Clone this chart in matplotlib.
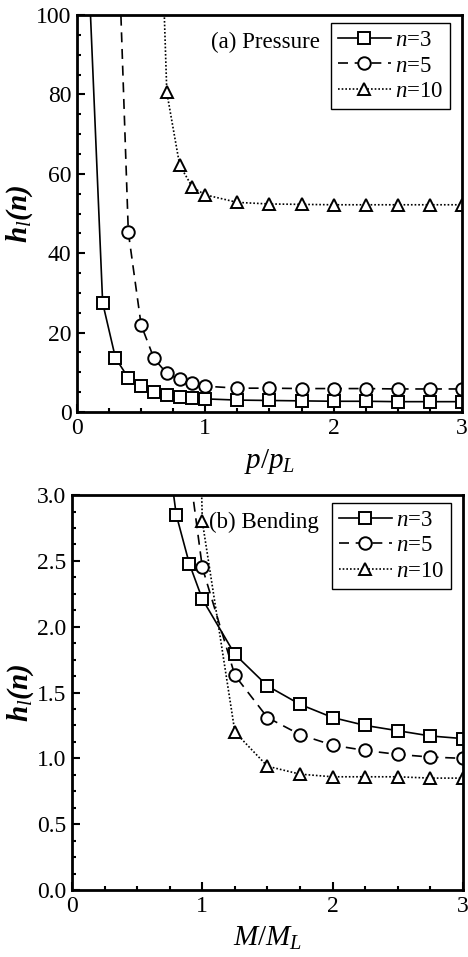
import matplotlib
matplotlib.use("Agg")
import matplotlib.pyplot as plt
from matplotlib.ticker import MultipleLocator

plt.rcParams['font.family'] = ['Liberation Serif', 'DejaVu Serif']
plt.rcParams['mathtext.fontset'] = 'custom'
plt.rcParams['mathtext.rm'] = 'Liberation Serif'
plt.rcParams['mathtext.it'] = 'Liberation Serif:italic'
plt.rcParams['mathtext.bf'] = 'Liberation Serif:bold:italic'

# (a) pressure, p/pL ; first point of each series lies above the frame
p_n3 = [0.1, 0.2, 0.3, 0.4, 0.5, 0.6, 0.7, 0.8, 0.9, 1.0, 1.25, 1.5, 1.75, 2.0, 2.25, 2.5, 2.75, 3.0]
h_p_n3 = [104, 27.5, 13.6, 8.6, 6.5, 5.1, 4.2, 3.9, 3.6, 3.3, 3.0, 2.9, 2.8, 2.7, 2.7, 2.6, 2.6, 2.6]
p_n5 = [0.3, 0.4, 0.5, 0.6, 0.7, 0.8, 0.9, 1.0, 1.25, 1.5, 1.75, 2.0, 2.25, 2.5, 2.75, 3.0]
h_p_n5 = [140, 45.3, 21.9, 13.5, 9.7, 8.2, 7.2, 6.5, 6.0, 6.0, 5.9, 5.9, 5.9, 5.8, 5.8, 5.8]
p_n10 = [0.6, 0.7, 0.8, 0.9, 1.0, 1.25, 1.5, 1.75, 2.0, 2.25, 2.5, 2.75, 3.0]
h_p_n10 = [180, 80.5, 62.2, 56.6, 54.7, 52.8, 52.4, 52.3, 52.2, 52.2, 52.2, 52.2, 52.2]

# (b) bending, M/ML
m_n3 = [0.7, 0.8, 0.9, 1.0, 1.25, 1.5, 1.75, 2.0, 2.25, 2.5, 2.75, 3.0]
h_m_n3 = [3.6, 2.85, 2.48, 2.21, 1.79, 1.55, 1.41, 1.31, 1.25, 1.21, 1.17, 1.15]
m_n5 = [0.9, 1.0, 1.25, 1.5, 1.75, 2.0, 2.25, 2.5, 2.75, 3.0]
h_m_n5 = [3.2, 2.45, 1.63, 1.31, 1.18, 1.1, 1.06, 1.03, 1.01, 1.0]
m_n10 = [0.9, 1.0, 1.25, 1.5, 1.75, 2.0, 2.25, 2.5, 2.75, 3.0]
h_m_n10 = [7.0, 2.8, 1.2, 0.94, 0.88, 0.86, 0.86, 0.86, 0.85, 0.85]

labels = ['$n$=3', '$n$=5', '$n$=10']
markers = ['s', 'o', '^']
styles = ['-', (0, (6, 4)), (0, (1, 1.2))]

fig = plt.figure(figsize=(4.68, 9.57), dpi=100)
ax1 = fig.add_axes([0.1645, 0.5695, 0.8226, 0.4148])
ax2 = fig.add_axes([0.1538, 0.070, 0.8355, 0.4127])


def draw(ax, series, title, ylim, ymajor, yminor, xlabel, fmt):
    for (x, y), lab, mk, ls in zip(series, labels, markers, styles):
        ax.plot(x, y, color='black', linestyle=ls, linewidth=1.2,
                marker=mk, markersize=9, markerfacecolor='white',
                markeredgecolor='black', markeredgewidth=1.4, label=lab)
    ax.set_xlim(0, 3)
    ax.set_ylim(*ylim)
    ax.xaxis.set_major_locator(MultipleLocator(1))
    ax.xaxis.set_minor_locator(MultipleLocator(0.25))
    ax.yaxis.set_major_locator(MultipleLocator(ymajor))
    ax.yaxis.set_minor_locator(MultipleLocator(yminor))
    ax.yaxis.set_major_formatter(fmt)
    ax.tick_params(which='both', direction='in', top=False, right=False,
                   labelsize=17, width=1.5)
    ax.tick_params(which='major', length=6, pad=4)
    ax.tick_params(which='minor', length=3)
    for s in ax.spines.values():
        s.set_linewidth(2)
    ax.set_xlabel(xlabel, fontsize=21, labelpad=6)
    ax.set_ylabel(r'$\mathbf{h}_{\mathit{l}}\mathbf{(n)}$', fontsize=21, labelpad=1)
    ax.text(0.631, 0.932, title, transform=ax.transAxes, ha='right',
            va='center', fontsize=16.5)
    leg = ax.legend(loc='upper right', bbox_to_anchor=(0.97, 0.98),
                    borderaxespad=0, fontsize=16.5, handlelength=2.3,
                    handletextpad=0.2, labelspacing=0.2, borderpad=0.3,
                    fancybox=False, framealpha=1, edgecolor='black')
    leg.get_frame().set_linewidth(1.0)


draw(ax1, [(p_n3, h_p_n3), (p_n5, h_p_n5), (p_n10, h_p_n10)], '(a) Pressure',
     (0, 100), 20, 5, r'$p/p_L$', '{x:.0f}')
draw(ax2, [(m_n3, h_m_n3), (m_n5, h_m_n5), (m_n10, h_m_n10)], '(b) Bending',
     (0, 3), 0.5, 0.125, r'$M/M_L$', '{x:.1f}')

fig.savefig('out.png', dpi=100)
